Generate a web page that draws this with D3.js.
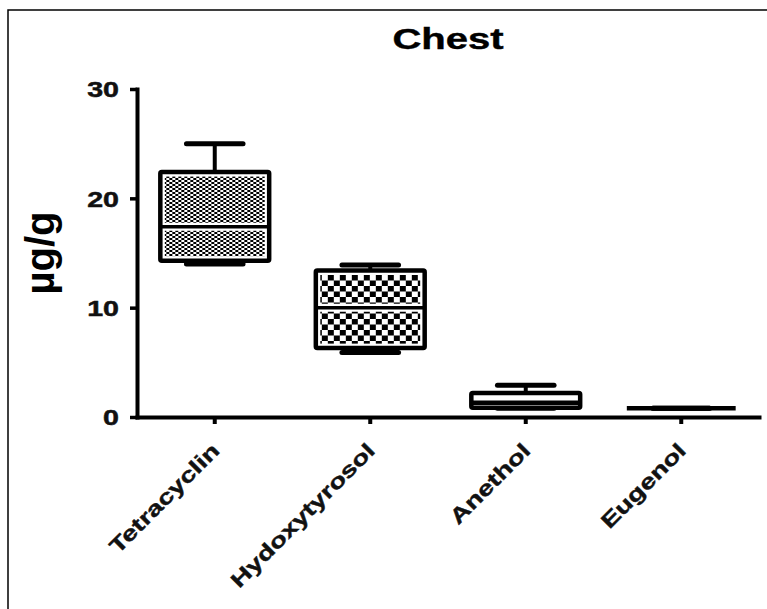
<!DOCTYPE html>
<html>
<head>
<meta charset="utf-8">
<script src="https://cdn.jsdelivr.net/npm/d3@7"></script>
<style>
    body { margin: 0; background: #fff; }
    svg { display: block; font-family: "Liberation Sans", Arial, sans-serif; }
</style>
</head>
<body>
<div id="chart"></div>
<script>
// Box plot values (µg/g)
const categories = ["Tetracyclin", "Hydoxytyrosol", "Anethol", "Eugenol"];
const mins    = [14.0, 5.9, 0.8, 0.8];
const q1s     = [14.3, 6.3, 0.85, 0.8];
const medians = [17.4, 10.0, 1.3, 0.8];
const q3s     = [22.4, 13.4, 2.2, 0.8];
const maxs    = [25.0, 13.9, 2.9, 0.8];
const yTicks  = [0, 10, 20, 30];

// fill style per box (by index)
const boxFills = ["url(#fine)", "url(#coarse)", "#fff", "#fff"];

const width = 767, height = 609;
const margin = { top: 89, right: 8, bottom: 192, left: 137 };
const stretch = 1.3;   // text in the picture is wider than normal

const svg = d3.select("#chart").append("svg")
    .attr("width", width)
    .attr("height", height);

// --------------------
// PATTERNS
// --------------------
const defs = svg.append("defs");

const fine = defs.append("pattern")
    .attr("id", "fine")
    .attr("patternUnits", "userSpaceOnUse")
    .attr("width", 6).attr("height", 4);
fine.append("rect").attr("width", 6).attr("height", 4).attr("fill", "#fff");
fine.append("rect").attr("x", 0).attr("y", 0).attr("width", 3).attr("height", 2).attr("fill", "#000");
fine.append("rect").attr("x", 3).attr("y", 2).attr("width", 3).attr("height", 2).attr("fill", "#000");

const coarse = defs.append("pattern")
    .attr("id", "coarse")
    .attr("patternUnits", "userSpaceOnUse")
    .attr("width", 12).attr("height", 11);
coarse.append("rect").attr("width", 12).attr("height", 11).attr("fill", "#fff");
coarse.append("rect").attr("x", 0).attr("y", 0).attr("width", 6).attr("height", 5.5).attr("fill", "#000");
coarse.append("rect").attr("x", 6).attr("y", 5.5).attr("width", 6).attr("height", 5.5).attr("fill", "#000");

// frame (top + left only)
svg.append("path")
    .attr("d", `M8,${height} L8,10 L${width},10`)
    .attr("fill", "none")
    .attr("stroke", "#000")
    .attr("stroke-width", 1.5);

// --------------------
// SCALES
// --------------------
const x = d3.scaleBand()
    .domain(categories)
    .range([margin.left, width - margin.right])
    .paddingInner(0.3)
    .paddingOuter(0.15);

const y = d3.scaleLinear()
    .domain([0, 30])
    .range([height - margin.bottom, margin.top]);

const boxW = x.bandwidth();
const capW = boxW * 0.52;
const lw = 4.5;

// --------------------
// BOXES
// --------------------
const idx = d3.range(categories.length);
const boxes = svg.selectAll("g.box")
    .data(idx)
    .join("g")
    .attr("class", "box")
    .attr("transform", i => `translate(${x(categories[i])},0)`);

// whiskers
boxes.append("line")
    .attr("x1", boxW / 2).attr("x2", boxW / 2)
    .attr("y1", i => y(q3s[i])).attr("y2", i => y(maxs[i]))
    .attr("stroke", "#000").attr("stroke-width", 4);
boxes.append("line")
    .attr("x1", boxW / 2).attr("x2", boxW / 2)
    .attr("y1", i => y(q1s[i])).attr("y2", i => y(mins[i]))
    .attr("stroke", "#000").attr("stroke-width", 4);

// caps
[maxs, mins].forEach(arr => {
    boxes.append("line")
        .attr("x1", (boxW - capW) / 2).attr("x2", (boxW + capW) / 2)
        .attr("y1", i => y(arr[i])).attr("y2", i => y(arr[i]))
        .attr("stroke", "#000").attr("stroke-width", 5)
        .attr("stroke-linecap", "round");
});

// box fill (inset so a thin white ring shows inside the border)
boxes.append("rect")
    .attr("x", 0).attr("width", boxW)
    .attr("y", i => y(q3s[i])).attr("height", i => y(q1s[i]) - y(q3s[i]))
    .attr("fill", "#fff");
boxes.append("rect")
    .attr("x", 4.5).attr("width", boxW - 9)
    .attr("y", i => y(q3s[i]) + 4.5)
    .attr("height", i => Math.max(0, y(q1s[i]) - y(q3s[i]) - 9))
    .attr("fill", i => boxFills[i]);

// median (white halo on patterned boxes)
boxes.filter(i => boxFills[i].startsWith("url"))
    .append("line")
    .attr("x1", 2).attr("x2", boxW - 2)
    .attr("y1", i => y(medians[i])).attr("y2", i => y(medians[i]))
    .attr("stroke", "#fff").attr("stroke-width", 8);
boxes.append("line")
    .attr("x1", 0).attr("x2", boxW)
    .attr("y1", i => y(medians[i])).attr("y2", i => y(medians[i]))
    .attr("stroke", "#000").attr("stroke-width", i => boxFills[i].startsWith("url") ? 3.5 : lw);

// box border
boxes.append("rect")
    .attr("x", 0).attr("width", boxW)
    .attr("y", i => y(q3s[i])).attr("height", i => y(q1s[i]) - y(q3s[i]))
    .attr("fill", "none")
    .attr("stroke", "#000")
    .attr("stroke-width", lw)
    .attr("stroke-linejoin", "round")
    .attr("rx", 1.5);

// --------------------
// AXES
// --------------------
const yAxis = svg.append("g")
    .attr("transform", `translate(${margin.left},0)`)
    .call(d3.axisLeft(y).tickValues(yTicks).tickSize(7).tickSizeOuter(0).tickPadding(0));

yAxis.select(".domain").attr("stroke-width", 4).attr("stroke-linecap", "square");
yAxis.selectAll(".tick line").attr("stroke-width", 3.5);
yAxis.selectAll(".tick text")
    .attr("x", -18 / stretch)
    .attr("dy", "0.36em")
    .attr("transform", `scale(${stretch},1)`)
    .style("font-size", "22px")
    .style("font-weight", "bold")
    .style("fill", "#111")
    .style("stroke", "#111")
    .style("stroke-width", 0.5);

const xAxis = svg.append("g")
    .attr("transform", `translate(0,${y(0)})`)
    .call(d3.axisBottom(x).tickSize(7).tickSizeOuter(0));

xAxis.select(".domain").attr("stroke-width", 4).attr("stroke-linecap", "square");
xAxis.selectAll(".tick line").attr("stroke-width", 4);
xAxis.selectAll(".tick text")
    .attr("x", 0).attr("y", 0).attr("dy", 0)
    .attr("text-anchor", "end")
    .attr("transform", `translate(6,35) rotate(-45) scale(1.33,1)`)
    .style("font-size", "21px")
    .style("font-weight", "bold")
    .style("fill", "#111")
    .style("stroke", "#111")
    .style("stroke-width", 0.4);

// y label
svg.append("text")
    .attr("transform", `translate(54,${(y(0) + y(30)) / 2}) rotate(-90)`)
    .attr("text-anchor", "middle")
    .style("font-size", "40px")
    .style("font-weight", "bold")
    .text("µg/g");

// title
svg.append("text")
    .attr("transform", `translate(${(margin.left + width - margin.right) / 2},49) scale(1.38,1)`)
    .attr("text-anchor", "middle")
    .style("font-size", "29px")
    .style("font-weight", "bold")
    .style("stroke", "#000")
    .style("stroke-width", 0.4)
    .text("Chest");
</script>
</body>
</html>
